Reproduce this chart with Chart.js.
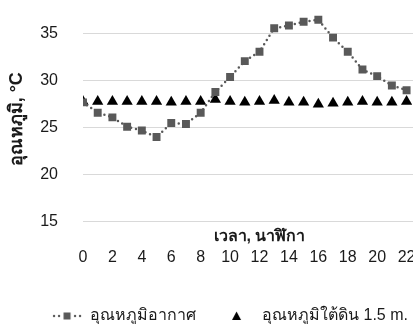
<!DOCTYPE html>
<html lang="th">
  <head>
    <meta charset="utf-8" />
    <title>อุณหภูมิ</title>
    <script src="https://cdn.jsdelivr.net/npm/chart.js@4.4.1/dist/chart.umd.min.js"></script>
    <style>
      html, body { margin: 0; padding: 0; background: #fff; overflow: hidden; }
      #wrap { position: relative; width: 413px; height: 324px; overflow: hidden; }
      #myChart { position: absolute; left: 0; top: -30px; }
    </style>
  </head>
  <body>
    <div id="wrap">
      <canvas id="myChart" width="460" height="364"></canvas>
    </div>
    <script>
      // ชั่วโมง (นาฬิกา)
      var hours = [0, 1, 2, 3, 4, 5, 6, 7, 8, 9, 10, 11, 12, 13, 14, 15, 16, 17, 18, 19, 20, 21, 22];
      // อุณหภูมิอากาศ
      var airTemp = [27.7, 26.6, 26.1, 25.1, 24.7, 24.0, 25.5, 25.4, 26.6, 28.8, 30.4, 32.1, 33.1, 35.6, 35.9, 36.3, 36.5, 34.6, 33.1, 31.2, 30.5, 29.5, 29.0];
      // อุณหภูมิใต้ดิน 1.5 m.
      var soilTemp = [27.8, 27.8, 27.8, 27.8, 27.8, 27.8, 27.7, 27.8, 27.8, 28.0, 27.8, 27.7, 27.8, 27.9, 27.7, 27.7, 27.5, 27.6, 27.7, 27.8, 27.7, 27.7, 27.8];
      var yTicks = [15, 20, 25, 30, 35, 40];
      var xTicks = [0, 2, 4, 6, 8, 10, 12, 14, 16, 18, 20, 22, 24];

      var FONT = "'Liberation Sans', 'DejaVu Sans', sans-serif";
      var TXT = "#1a1a1a";

      function toXY(ys) {
        return hours.map(function (h, i) { return { x: h, y: ys[i] }; });
      }

      // legend markers
      function airIcon() {
        var c = document.createElement("canvas");
        c.width = 30; c.height = 16;
        var g = c.getContext("2d");
        g.fillStyle = "#595959";
        [2, 7, 23, 28].forEach(function (x) {
          g.beginPath(); g.arc(x, 8, 1.2, 0, Math.PI * 2); g.fill();
        });
        g.fillRect(11.5, 4.5, 7, 7);
        return c;
      }
      function soilIcon() {
        var c = document.createElement("canvas");
        c.width = 30; c.height = 16;
        var g = c.getContext("2d");
        g.fillStyle = "#000";
        g.beginPath(); g.moveTo(12.5, 3.5); g.lineTo(17, 12); g.lineTo(8, 12); g.closePath(); g.fill();
        return c;
      }
      var icons = [airIcon(), soilIcon()];

      var config = {
        type: "line",
        data: {
          datasets: [
            {
              label: "อุณหภูมิอากาศ",
              data: toXY(airTemp),
              borderColor: "#595959",
              backgroundColor: "#595959",
              borderWidth: 2.5,
              borderDash: [0, 5],
              borderCapStyle: "round",
              pointStyle: "rect",
              pointRadius: 5.6,
              pointBorderWidth: 0,
              tension: 0,
            },
            {
              label: "อุณหภูมิใต้ดิน 1.5 m.",
              data: toXY(soilTemp),
              showLine: false,
              borderColor: "#000",
              backgroundColor: "#000",
              pointStyle: "triangle",
              pointRadius: 6.5,
              pointBorderWidth: 0,
            },
          ],
        },
        options: {
          responsive: false,
          animation: false,
          layout: { padding: { left: 24, right: 24, top: 17, bottom: 0 } },
          plugins: {
            tooltip: { enabled: false },
            legend: {
              position: "bottom",
              labels: {
                usePointStyle: true,
                pointStyleWidth: 30,
                padding: 28,
                color: TXT,
                font: { family: FONT, size: 16 },
                generateLabels: function (chart) {
                  var items = Chart.defaults.plugins.legend.labels.generateLabels(chart);
                  items.forEach(function (it, i) { it.pointStyle = icons[i]; });
                  return items;
                },
              },
            },
          },
          scales: {
            y: {
              min: 15,
              max: 40,
              afterBuildTicks: function (s) { s.ticks = yTicks.map(function (v) { return { value: v }; }); },
              afterFit: function (s) { s.width = 59; s.paddingTop = 0; s.paddingBottom = 0; },
              grid: { color: "#d9d9d9", lineWidth: 1, drawTicks: false },
              border: { display: false },
              ticks: { padding: 25, color: TXT, font: { family: FONT, size: 16 } },
              title: {
                display: true,
                text: "อุณหภูมิ, °C\u00A0\u00A0\u00A0\u00A0\u00A0\u00A0",
                color: TXT,
                padding: { top: -18, bottom: 0 },
                font: { family: FONT, size: 18, weight: "bold" },
              },
            },
            x2: {
              type: "linear",
              position: "bottom",
              weight: 0,
              min: 0,
              max: 24,
              afterFit: function (s) { s.height = 25; },
              grid: { display: false },
              border: { display: false },
              ticks: { display: false },
              title: {
                display: true,
                text: "เวลา, นาฬิกา",
                color: TXT,
                padding: 0,
                font: { family: FONT, size: 16, weight: "bold" },
              },
            },
            x: {
              type: "linear",
              position: "bottom",
              weight: 1,
              min: 0,
              max: 24,
              afterBuildTicks: function (s) { s.ticks = xTicks.map(function (v) { return { value: v }; }); },
              afterFit: function (s) { s.height = 33.5; },
              grid: { display: false },
              border: { display: false },
              ticks: { padding: -7, color: TXT, font: { family: FONT, size: 16 }, maxRotation: 0 },
            },
          },
        },
      };
      var myChart = new Chart(document.getElementById("myChart"), config);
    </script>
  </body>
</html>
